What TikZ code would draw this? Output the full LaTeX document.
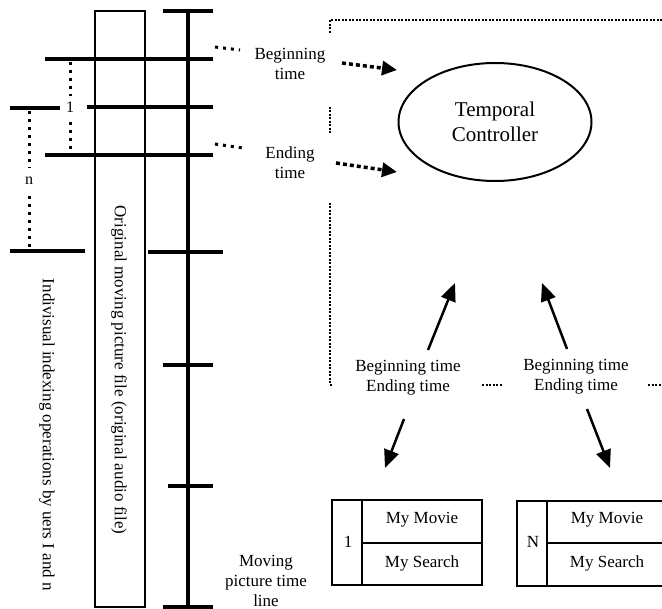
\documentclass[tikz,border=0pt]{standalone}
\usepackage{fontspec}
\setmainfont{Liberation Serif}
\usetikzlibrary{arrows.meta,shapes.geometric}
\begin{document}
\begin{tikzpicture}[x=1pt,y=-1pt,
  font=\fontsize{17}{20}\selectfont,
  tick/.style={line width=3.3pt},
  bigdot/.style={line width=3pt,dash pattern=on 3pt off 5pt},
  finedot/.style={line width=2pt,dash pattern=on 2pt off 1.5pt},
  arrdot/.style={line width=3.5pt,dash pattern=on 4pt off 3pt,-{Triangle[length=15pt,width=14pt]}},
  solidarr/.style={line width=2.5pt,-{Triangle[length=18pt,width=15pt]}},
  lbl/.style={align=center,inner sep=0pt},
  boxline/.style={line width=2.5pt}]
\useasboundingbox (0,0) rectangle (662,609);
% original file rectangle
\draw[line width=2.5pt] (95,11) rectangle (145,607);
\node[rotate=-90,inner sep=0pt] (orig) at (119,370) {Original moving picture file (original audio file)};
% time line
\draw[line width=4pt] (188,11) -- (188,607);
\foreach \y/\a/\b in {11/163/213, 59/45/213, 107/87/213, 155/45/213, 252/148/223, 365/163/213, 486/168/213, 607/163/213}
  \draw[tick] (\a,\y) -- (\b,\y);
% left markers
\draw[tick] (10,108) -- (60,108);
\draw[tick] (10,251) -- (85,251);
\node[inner sep=0pt,font=\fontsize{16}{18}\selectfont] (one) at (70,107) {1};
\node[inner sep=0pt,font=\fontsize{16}{18}\selectfont] (en) at (29,181) {n};
\coordinate (o1) at (70,62);
\coordinate (o1b) at (70,96);
\coordinate (o2a) at (70,122);
\coordinate (o2) at (70,155);
\coordinate (n1a) at (29,111);
\coordinate (n1b) at (29,168);
\coordinate (n2b) at (29,196);
\coordinate (n2a) at (29,249);
\draw[bigdot] (o1) -- (o1b);
\draw[bigdot] (o2a) -- (o2);
\draw[bigdot] (n1a) -- (n1b);
\draw[bigdot] (n2b) -- (n2a);
\node[rotate=-90,inner sep=0pt] (indiv) at (47,435) {Indivisual indexing operations by uers I and n};
% labels near timeline
\node[lbl] (bt) at (290,64) {Beginning\\time};
\node[lbl] (et) at (290,163) {Ending\\time};
\node[lbl] (mptl) at (266,581) {Moving\\picture time\\line};
\coordinate (b0) at (215,47);
\coordinate (e0) at (215,144);
\draw[bigdot] (b0) -- (240,50);
\draw[bigdot] (e0) -- (243,148);
% dotted frame
\draw[finedot] (662,20) -- (330,20) -- (330,33);
\draw[finedot] (330,107) -- (330,133);
\draw[finedot] (330,203) -- (330,385) -- (333,385);
\draw[finedot] (482,385) -- (503,385);
\draw[finedot] (648,385) -- (662,385);
% temporal controller
\node[draw,line width=2pt,ellipse,minimum width=193pt,minimum height=118pt,inner sep=0pt,align=center,font=\fontsize{21}{25}\selectfont] (tc) at (495,122) {Temporal\\Controller};
\coordinate (ta) at (397,70);
\coordinate (tb) at (397,172);
\draw[arrdot] (342,63) -- (ta);
\draw[arrdot] (336,163) -- (tb);
% bottom texts
\node[lbl] (be1) at (408,378) {Beginning time\\Ending time};
\node[lbl] (be2) at (576,377) {Beginning time\\Ending time};
\coordinate (u1) at (455,283);
\coordinate (u2) at (542,283);
\draw[solidarr] (428,350) -- (u1);
\draw[solidarr] (567,349) -- (u2);
% boxes
\node[boxline,draw,minimum width=150pt,minimum height=85pt,inner sep=0pt] (box1) at (407,542.5) {};
\node[boxline,draw,minimum width=150pt,minimum height=85pt,inner sep=0pt] (box2) at (592,543.5) {};
\draw[boxline] (362,500) -- (362,585);
\draw[boxline] (362,543) -- (482,543);
\draw[boxline] (547,501) -- (547,586);
\draw[boxline] (547,543) -- (667,543);
\node (n1) at (348,542) {1};
\node (m1) at (422,520) {My Movie};
\node (s1) at (422,563) {My Search};
\node (nN) at (533,542) {N};
\node (m2) at (607,520) {My Movie};
\node (s2) at (607,563) {My Search};
\coordinate (d1) at (385,468);
\coordinate (d2) at (610,468);
\draw[solidarr] (404,419) -- (d1);
\draw[solidarr] (587,409) -- (d2);
\end{tikzpicture}
\end{document}
